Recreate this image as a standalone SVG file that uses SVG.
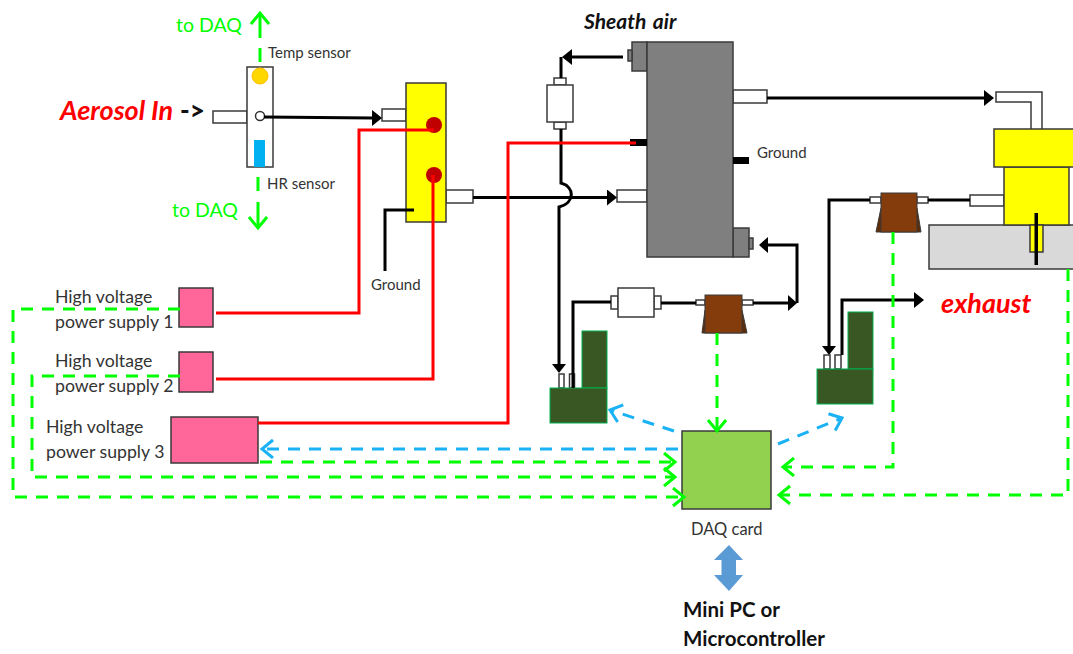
<svg xmlns="http://www.w3.org/2000/svg" width="1073" height="654" viewBox="0 0 1073 654">
<style>
text{font-family:Lato,"Liberation Sans",sans-serif;fill:#333}
.s15{font-size:15px}.s18{font-size:17.700px}
.g{fill:#0f0;font-size:19.500px}
.e{stroke:#3a3a3a;stroke-width:1.5}
.w{fill:#fff}.gy{fill:#7f7f7f}.y{fill:#ff0}.p{fill:#ff6699}
.d{fill:#385723;stroke:#00b050;stroke-width:1}
.b{fill:#843c0c}.bb{fill:#5f2c08}
.t{fill:#fff;stroke:#3a3a3a;stroke-width:1.5}
.k{fill:none;stroke:#000;stroke-width:3}
.ka{marker-end:url(#kh)}
.r{fill:none;stroke:#f00;stroke-width:3}
.gd{fill:none;stroke:#0f0;stroke-width:3;stroke-dasharray:12 9;marker-end:url(#gh)}
.bd{fill:none;stroke:#1ab2f5;stroke-width:3;stroke-dasharray:12 9;marker-end:url(#bh)}
</style>
<defs>
<marker id="kh" markerUnits="userSpaceOnUse" markerWidth="12" markerHeight="18" refX="0" refY="8" orient="auto"><path d="M0 0L10 8L0 16Z" fill="#000"/></marker>
<marker id="gh" markerUnits="userSpaceOnUse" markerWidth="16" markerHeight="24" refX="13" refY="10" orient="auto"><path d="M2 1L13 10L2 19" fill="none" stroke="#0f0" stroke-width="3"/></marker>
<marker id="bh" markerUnits="userSpaceOnUse" markerWidth="16" markerHeight="24" refX="13" refY="10" orient="auto"><path d="M2 1L13 10L2 19" fill="none" stroke="#1ab2f5" stroke-width="3"/></marker>
</defs>
<rect width="1073" height="654" fill="#fff"/>

<g id="aerosol-label"><text x="60" y="120" font-size="27" font-weight="700" font-style="italic" style="fill:#f00">Aerosol In</text><text x="180" y="120" font-size="26" font-weight="900" style="fill:#111">-&gt;</text></g>
<g id="sensor-block">
<rect class="t" x="213" y="111" width="34" height="12"/>
<rect class="t" x="247" y="67" width="26" height="100"/>
<circle cx="260" cy="76" r="8" fill="#ffd700" stroke="#ffc000"/>
<circle cx="260" cy="116" r="4.5" fill="#fff" stroke="#333" stroke-width="1.5"/>
<rect x="254" y="140" width="11" height="27" fill="#00b0f0"/>
<text class="s15" x="268" y="58">Temp sensor</text>
<text class="s15" x="267" y="189">HR sensor</text>
<text class="g" x="176" y="32">to DAQ</text>
<text class="g" x="172" y="217">to DAQ</text>
</g>
<g id="charger">
<rect class="t" x="382" y="109" width="24" height="12"/>
<rect class="t" x="446" y="190" width="27" height="13"/>
<rect class="y e" x="406" y="83" width="40" height="139"/>
<circle cx="434" cy="125" r="8" fill="#c00000"/>
<circle cx="434" cy="175" r="8" fill="#c00000"/>
<text class="s15" x="371" y="290">Ground</text>
</g>
<g id="hv1"><rect class="p e" x="179" y="288" width="34" height="39"/><text class="s18" x="55" y="303">High voltage</text><text class="s18" x="55" y="328">power supply 1</text></g>
<g id="hv2"><rect class="p e" x="179" y="352" width="34" height="40"/><text class="s18" x="55" y="367">High voltage</text><text class="s18" x="55" y="392">power supply 2</text></g>
<g id="hv3"><rect class="p e" x="171" y="417" width="87" height="46"/><text class="s18" x="46" y="433">High voltage</text><text class="s18" x="46" y="458">power supply 3</text></g>
<g id="dma">
<text x="584" y="29" font-size="21" font-weight="700" font-style="italic" word-spacing="2" style="fill:#111">Sheath air</text>
<rect class="gy e" x="632" y="42" width="15" height="29"/>
<rect class="gy e" x="628" y="50" width="4" height="11"/>
<rect class="gy e" x="733" y="228" width="16" height="29"/>
<rect class="gy e" x="749" y="238" width="4" height="11"/>
<rect class="t" x="617" y="190" width="30" height="12"/>
<rect class="t" x="733" y="90" width="34" height="13"/>
<rect class="gy e" x="647" y="42" width="86" height="215"/>
<rect x="630" y="139" width="17" height="7" fill="#000"/>
<rect x="733" y="157" width="16" height="7" fill="#000"/>
<text class="s15" x="757" y="158">Ground</text>
</g>
<g id="filter-top"><rect class="t" x="554" y="78" width="12" height="7"/><rect class="t" x="554" y="122" width="12" height="7"/><rect class="t" x="547" y="85" width="26" height="37"/></g>
<g id="filter-bottom"><rect class="t" x="611" y="296" width="7" height="13"/><rect class="t" x="654" y="296" width="7" height="13"/><rect class="t" x="618" y="288" width="36" height="29"/></g>
<g id="pump-bottom">
<rect class="t" x="696" y="300" width="9" height="5"/><rect class="t" x="742" y="300" width="11" height="5"/>
<path class="bb" d="M705 310L702 333H747L742 310Z" stroke="#3a3a3a"/>
<rect class="b" x="705" y="295" width="37" height="38" stroke="#3a3a3a"/>
</g>
<g id="pump-top">
<rect class="t" x="870" y="197" width="11" height="6"/><rect class="t" x="917" y="197" width="11" height="6"/>
<path class="bb" d="M881 208L876 232H921L917 208Z" stroke="#3a3a3a"/>
<rect class="b" x="881" y="193" width="36" height="39" stroke="#3a3a3a"/>
</g>
<g id="cpc-left">
<rect class="t" x="559" y="374" width="5" height="14" /><rect class="t" x="569.500" y="374" width="5" height="14"/>
<rect class="d" x="582" y="331" width="25" height="57"/><rect class="d" x="550" y="388" width="57" height="35"/>
</g>
<g id="cpc-right">
<rect class="t" x="824" y="355" width="6" height="14"/><rect class="t" x="835" y="355" width="6" height="14"/>
<rect class="d" x="848" y="312" width="25" height="57"/><rect class="d" x="817" y="369" width="56" height="35"/>
<text x="941" y="313" font-size="27" font-weight="700" font-style="italic" style="fill:#f00">exhaust</text>
</g>
<g id="detector">
<rect x="929" y="225" width="146" height="44" fill="#d9d9d9" stroke="#3a3a3a" stroke-width="1.500"/>
<path class="t" d="M1031 129V102H996V92H1042V129"/>
<rect class="t" x="970" y="195" width="34" height="11"/>
<rect class="y e" x="1004" y="167" width="65" height="58"/>
<rect class="y e" x="994" y="129" width="81" height="38"/>
<rect class="y e" x="1030" y="225" width="13" height="27"/>
<rect x="1034.500" y="213" width="3.500" height="52" fill="#000"/>
</g>
<g id="daq"><rect x="682" y="431" width="89" height="78" fill="#92d050" stroke="#3a3a3a" stroke-width="1.500"/><text x="691" y="535" font-size="16.500">DAQ card</text></g>
<g id="pc"><path d="M729 545L743 560H736V575H743L729 591L714 575H721.500V560H714Z" fill="#5b9bd5"/>
<text x="683" y="617" font-size="20.500" font-weight="700" style="fill:#111">Mini PC or</text><text x="683" y="646" font-size="20.500" font-weight="700" style="fill:#111">Microcontroller</text></g>

<g id="connectors">
<path class="k ka" d="M264 117L372 118"/>
<path class="k ka" d="M473 197.500H607"/>
<path class="k ka" d="M767 98H984"/>
<path class="k ka" d="M623 57H572"/>
<path class="k" d="M561 57V78M561 129V183C575 187 575 203 559 207V364"/>
<path d="M559 373L552 364H566Z"/>
<path class="k" d="M573 388V302H611M661 303H696M753 303H788"/>
<path d="M797 303L788 295V311Z"/>
<path class="k" d="M797 303V245H768"/>
<path d="M759 245L768 237V253Z"/>
<path class="k" d="M870 200H829V346"/>
<path d="M829 355L822 346H836Z"/>
<path class="k" d="M928 200H970"/>
<path class="k ka" d="M842 355V300H914"/>
<path class="k" d="M414 210H385V271"/>
<path class="r" d="M216 313H359V130H434"/>
<path class="r" d="M216 379H433V175"/>
<path class="r" d="M258 423H508V143H636"/>
<path class="gd" style="stroke-dasharray:14 10 30" d="M260 62V13"/>
<path class="gd" style="stroke-dasharray:14 11 30" d="M258 177V228"/>
<path class="gd" d="M180 309H13V497H684"/>
<path class="gd" d="M180 376H32V477H675"/>
<path class="gd" d="M260 462H675"/>
<path class="gd" d="M717 333V431"/>
<path class="gd" d="M893 232V467H783"/>
<path class="gd" d="M1068 269V495H779"/>
<path class="bd" d="M678 449H262"/>
<path class="bd" d="M674 431L610 410"/>
<path class="bd" d="M778 444L842 418"/>
</g>
</svg>
